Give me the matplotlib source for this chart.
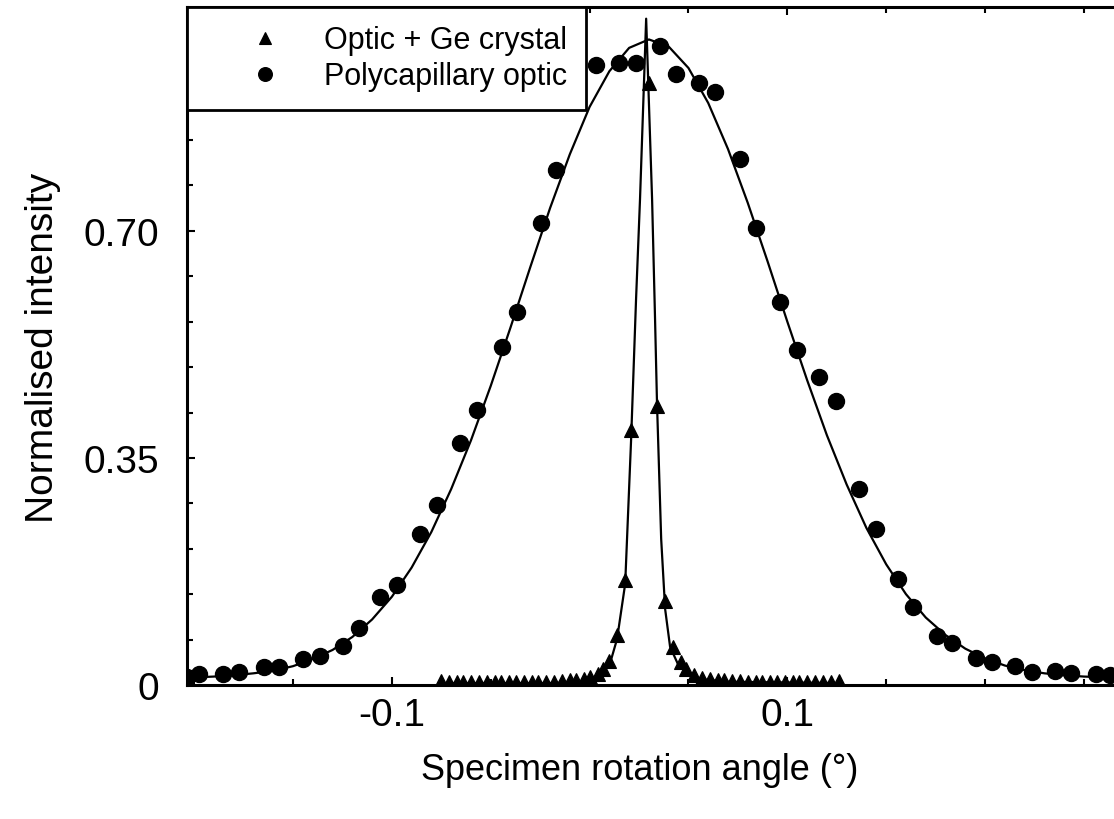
import matplotlib.pyplot as plt
from matplotlib.ticker import MultipleLocator

plt.rcParams['font.family'] = ['Liberation Sans', 'DejaVu Sans']

# polycapillary optic (circles)
poly_x = [-0.2035, -0.1974, -0.1853, -0.1772, -0.1646, -0.1570, -0.1448, -0.1362,
          -0.1246, -0.1165, -0.1059, -0.0973, -0.0857, -0.0771, -0.0655, -0.0569,
          -0.0442, -0.0366, -0.0245, -0.0169, 0.0033, 0.0150, 0.0235, 0.0357,
          0.0438, 0.0554, 0.0635, 0.0761, 0.0842, 0.0963, 0.1049, 0.1161,
          0.1247, 0.1363, 0.1449, 0.1560, 0.1636, 0.1757, 0.1833, 0.1955,
          0.2036, 0.2152, 0.2238, 0.2354, 0.2435, 0.2561, 0.2632]
poly_y = [0.012, 0.017, 0.017, 0.020, 0.028, 0.028, 0.040, 0.045,
          0.060, 0.088, 0.136, 0.154, 0.233, 0.278, 0.373, 0.424,
          0.521, 0.575, 0.712, 0.793, 0.956, 0.959, 0.959, 0.985,
          0.941, 0.928, 0.914, 0.811, 0.705, 0.591, 0.517, 0.475,
          0.438, 0.302, 0.241, 0.163, 0.120, 0.076, 0.065, 0.042,
          0.035, 0.029, 0.020, 0.022, 0.019, 0.017, 0.015]

# fitted curve for the polycapillary optic
poly_fit_x = [-0.205, -0.19, -0.18, -0.17, -0.16, -0.15, -0.14, -0.13, -0.12, -0.11,
              -0.10, -0.09, -0.08, -0.07, -0.06, -0.05, -0.04, -0.03, -0.02, -0.01,
              0.00, 0.01, 0.02, 0.03, 0.04, 0.05, 0.06, 0.07, 0.08, 0.09,
              0.10, 0.11, 0.12, 0.13, 0.14, 0.15, 0.16, 0.17, 0.18, 0.19,
              0.20, 0.21, 0.22, 0.23, 0.24, 0.25, 0.26, 0.266]
poly_fit_y = [0.011, 0.013, 0.015, 0.018, 0.022, 0.029, 0.040, 0.054, 0.074, 0.101,
              0.136, 0.181, 0.236, 0.302, 0.377, 0.461, 0.551, 0.644, 0.735, 0.818,
              0.891, 0.946, 0.982, 0.995, 0.984, 0.951, 0.897, 0.826, 0.743, 0.653,
              0.560, 0.470, 0.385, 0.309, 0.242, 0.186, 0.140, 0.104, 0.077, 0.056,
              0.041, 0.030, 0.023, 0.018, 0.015, 0.013, 0.012, 0.011]

# optic + Ge crystal (triangles)
ge_x = [-0.075, -0.071, -0.067, -0.064, -0.060, -0.056, -0.052, -0.048, -0.045, -0.041,
        -0.037, -0.033, -0.029, -0.026, -0.022, -0.018, -0.014, -0.010, -0.007, -0.003,
        0.000, 0.004, 0.007, 0.010, 0.014, 0.018, 0.021, 0.030, 0.034, 0.038,
        0.042, 0.046, 0.049, 0.053, 0.057, 0.061, 0.065, 0.068, 0.072, 0.076,
        0.080, 0.084, 0.087, 0.091, 0.095, 0.099, 0.103, 0.106, 0.110, 0.114,
        0.118, 0.122, 0.126]
ge_y = [0.006, 0.005, 0.005, 0.005, 0.005, 0.004, 0.004, 0.004, 0.004, 0.004,
        0.004, 0.004, 0.004, 0.005, 0.005, 0.005, 0.006, 0.007, 0.008, 0.009,
        0.012, 0.017, 0.024, 0.037, 0.077, 0.162, 0.393, 0.928, 0.430, 0.130,
        0.059, 0.035, 0.025, 0.015, 0.011, 0.009, 0.008, 0.007, 0.006, 0.006,
        0.005, 0.005, 0.005, 0.005, 0.005, 0.005, 0.005, 0.005, 0.005, 0.005,
        0.005, 0.005, 0.006]

ge_fit_x = [-0.076, -0.02, -0.005, 0.0003, 0.0053, 0.0104, 0.0139, 0.0180, 0.0210,
            0.0235, 0.0255, 0.0286, 0.0316, 0.0331, 0.0341, 0.0362, 0.0382, 0.0407,
            0.0447, 0.0508, 0.0558, 0.07, 0.126]
ge_fit_y = [0.003, 0.003, 0.004, 0.008, 0.014, 0.034, 0.071, 0.156, 0.379,
            0.595, 0.749, 1.027, 0.749, 0.564, 0.433, 0.225, 0.117, 0.059,
            0.032, 0.015, 0.009, 0.005, 0.003]

fig = plt.figure(figsize=(11.14, 8.2), dpi=100, facecolor='white')
ax = fig.add_axes([187 / 1114, 134 / 820, 927 / 1114, 678 / 820])

ax.plot(poly_fit_x, poly_fit_y, color='black', lw=1.6, zorder=2)
ax.plot(ge_fit_x, ge_fit_y, color='black', lw=1.6, zorder=2)
ax.plot(ge_x, ge_y, linestyle='none', marker='^', color='black', markersize=10.5,
        markeredgecolor='black', markeredgewidth=0.8, label='Optic + Ge crystal', zorder=3)
ax.plot(poly_x, poly_y, linestyle='none', marker='o', color='black', markersize=11.5,
        label='Polycapillary optic', zorder=3)

ax.set_xlim(-0.2036, 0.2652)
ax.set_ylim(0, 1.045)

ax.set_xticks([-0.1, 0.1])
ax.set_xticklabels(['-0.1', '0.1'])
ax.xaxis.set_minor_locator(MultipleLocator(0.05))
ax.set_yticks([0, 0.35, 0.70])
ax.set_yticklabels(['0', '0.35', '0.70'])
ax.yaxis.set_minor_locator(MultipleLocator(0.07))

ax.tick_params(which='both', direction='in', top=True, right=False, width=1.5)
ax.tick_params(which='major', length=6)
ax.tick_params(which='minor', length=4)
ax.tick_params(axis='x', labelsize=28, pad=9)
ax.tick_params(axis='y', labelsize=28, pad=20)

for side in ['left', 'bottom', 'top']:
    ax.spines[side].set_linewidth(2.2)
ax.spines['right'].set_visible(False)

ax.set_xlabel('Specimen rotation angle (°)', fontsize=26)
ax.xaxis.set_label_coords((640 - 187) / 927, -0.124)
ax.xaxis.label.set_va('center')
ax.set_ylabel('Normalised intensity', fontsize=28)
ax.yaxis.set_label_coords(-0.1555, 0.4985)
ax.yaxis.label.set_va('center')

leg = ax.legend(loc='upper left', bbox_to_anchor=(0, 1), borderaxespad=0,
                fontsize=22, frameon=True, fancybox=False, numpoints=1,
                borderpad=0.6, handlelength=3.9, handletextpad=0.0,
                labelspacing=0.2, markerscale=0.85)
leg.get_frame().set_edgecolor('black')
leg.get_frame().set_linewidth(2.0)
leg.get_frame().set_alpha(1)
leg.set_zorder(5)

fig.savefig('out.png', dpi=100)
